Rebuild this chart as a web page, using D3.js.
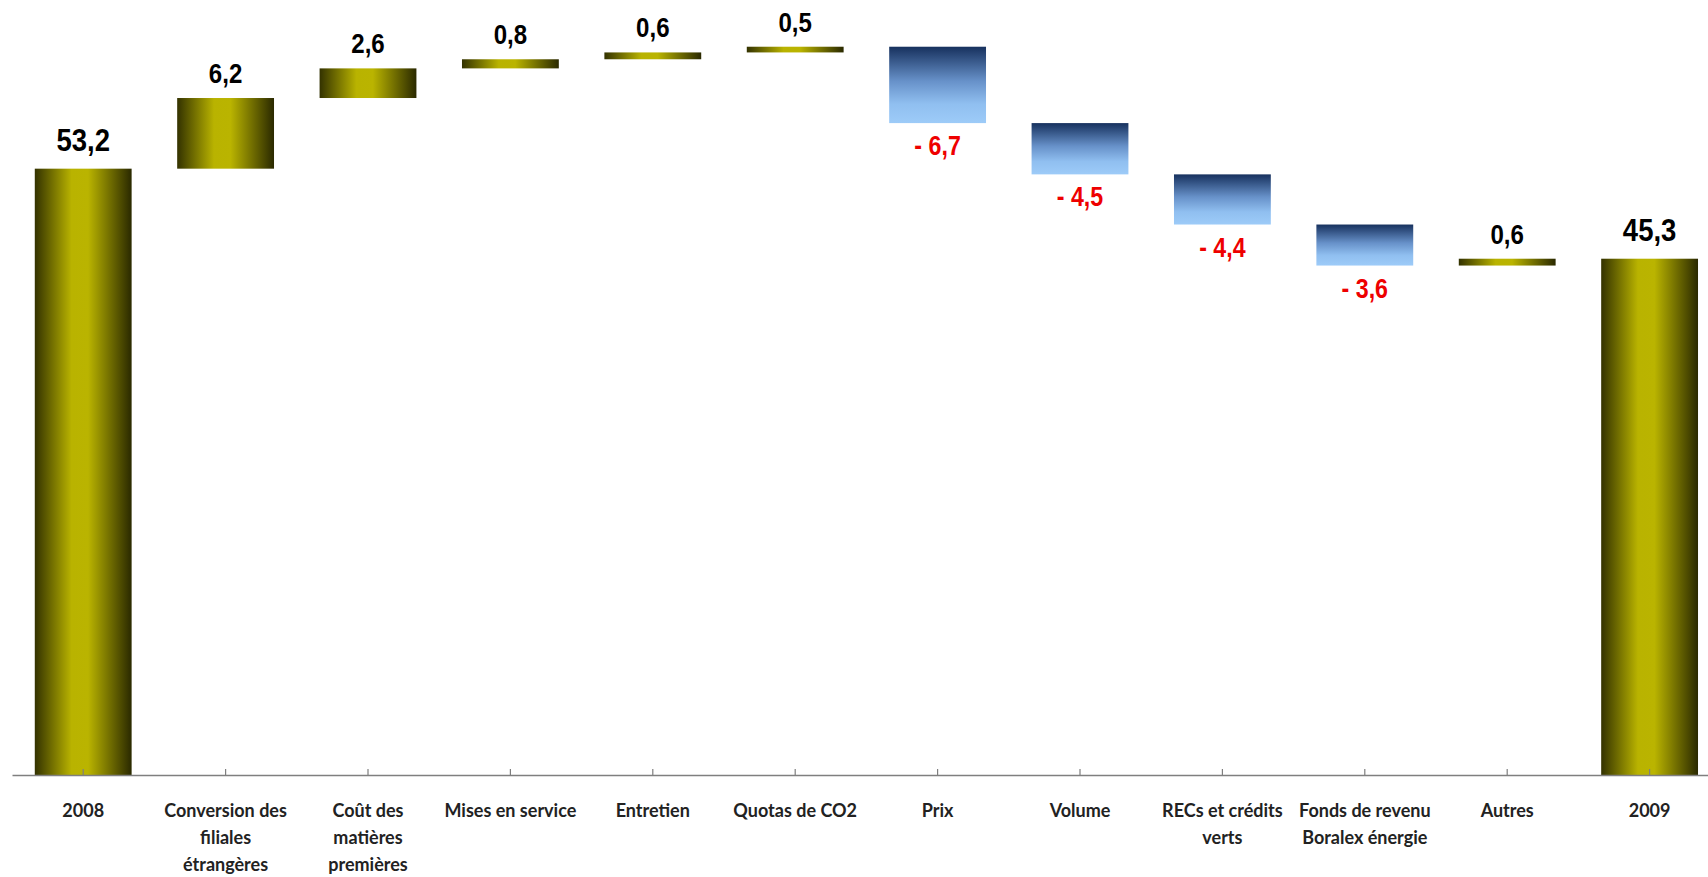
<!DOCTYPE html>
<html>
<head>
<meta charset="utf-8">
<script src="https://cdn.jsdelivr.net/npm/d3@7"></script>
<style>
  body { margin:0; background:#fff; }
  svg { display:block; }
</style>
</head>
<body>
<script>
// categories, one line per entry of the inner array
var categories = [
  ['2008'],
  ['Conversion des', 'filiales', 'étrangères'],
  ['Coût des', 'matières', 'premières'],
  ['Mises en service'],
  ['Entretien'],
  ['Quotas de CO2'],
  ['Prix'],
  ['Volume'],
  ['RECs et crédits', 'verts'],
  ['Fonds de revenu', 'Boralex énergie'],
  ['Autres'],
  ['2009']
];
var values = [53.2, 6.2, 2.6, 0.8, 0.6, 0.5, -6.7, -4.5, -4.4, -3.6, 0.6, 45.3];
var isTotal = [true, false, false, false, false, false, false, false, false, false, false, true];

var screen = { width:1708, height:877 };
var axisY = 775;

var svg = d3.select('body').append('svg')
            .attr('width', screen.width)
            .attr('height', screen.height);

var defs = svg.append('defs');
var gold = defs.append('linearGradient').attr('id', 'gold')
               .attr('x1', '0%').attr('y1', '0%').attr('x2', '100%').attr('y2', '0%');
gold.append('stop').attr('offset', '0%').attr('stop-color', '#333200');
gold.append('stop').attr('offset', '38%').attr('stop-color', '#b9b300');
gold.append('stop').attr('offset', '55%').attr('stop-color', '#bab400');
gold.append('stop').attr('offset', '100%').attr('stop-color', '#2a2900');

var blue = defs.append('linearGradient').attr('id', 'blue')
               .attr('x1', '0%').attr('y1', '0%').attr('x2', '0%').attr('y2', '100%');
blue.append('stop').attr('offset', '0%').attr('stop-color', '#17315e');
blue.append('stop').attr('offset', '45%').attr('stop-color', '#6791c9');
blue.append('stop').attr('offset', '75%').attr('stop-color', '#90bff0');
blue.append('stop').attr('offset', '100%').attr('stop-color', '#9dcbf8');

var keys = d3.range(categories.length);
var xScale = d3.scaleBand()
               .domain(keys)
               .range([12, 12 + 142.4 * categories.length])
               .paddingInner(0.32)
               .paddingOuter(0.16);
var yScale = d3.scaleLinear()
               .domain([0, 68])
               .range([axisY, 0]);

// running totals for the floating bars
var running = 0;
var bars = values.map(function(v, i){
  var lo, hi;
  if (isTotal[i]){
    lo = 0; hi = v; running = v;
  } else {
    lo = running; hi = running + v; running = hi;
  }
  return { i:i, v:v, y0:Math.min(lo, hi), y1:Math.max(lo, hi), total:isTotal[i] };
});

svg.selectAll('rect.bar')
   .data(bars)
   .enter()
   .append('rect')
   .classed('bar', true)
   .attr('x', function(d){ return xScale(d.i); })
   .attr('width', xScale.bandwidth())
   .attr('y', function(d){ return yScale(d.y1); })
   .attr('height', function(d){ return yScale(d.y0) - yScale(d.y1); })
   .attr('fill', function(d){ return d.v < 0 ? 'url(#blue)' : 'url(#gold)'; });

var fmt = function(v){
  var s = d3.format('.1f')(Math.abs(v)).replace('.', ',');
  return v < 0 ? '- ' + s : s;
};

// narrow bold look: squeeze Liberation Sans horizontally
svg.selectAll('text.val')
   .data(bars)
   .enter()
   .append('text')
   .classed('val', true)
   .attr('transform', function(d){
     var x = xScale(d.i) + xScale.bandwidth() / 2;
     var y = d.v < 0 ? yScale(d.y0) + 32 : yScale(d.y1) - (d.total ? 18 : 15);
     return 'translate(' + x + ',' + y + ') scale(0.86,1)';
   })
   .attr('text-anchor', 'middle')
   .attr('font-family', '"Liberation Sans", Arial, sans-serif')
   .attr('font-weight', 'bold')
   .attr('font-size', function(d){ return d.total ? 32 : (d.v < 0 ? 27 : 28); })
   .attr('fill', function(d){ return d.v < 0 ? '#ee0000' : '#000'; })
   .text(function(d){ return fmt(d.v); });

// axis
var xAxis = d3.axisBottom(xScale)
              .tickSizeInner(-6)
              .tickSizeOuter(0)
              .tickFormat('');
var axisG = svg.append('g')
               .attr('transform', 'translate(0,' + axisY + ')')
               .call(xAxis);
axisG.select('.domain').attr('stroke', '#7f7f7f').attr('stroke-width', 1.5);
axisG.selectAll('.tick line').attr('stroke', '#7f7f7f').attr('stroke-width', 1.2);

var labels = svg.append('g').classed('cats', true);
categories.forEach(function(lines, i){
  var t = labels.append('text')
                .attr('x', xScale(i) + xScale.bandwidth() / 2)
                .attr('y', axisY + 42)
                .attr('text-anchor', 'middle')
                .attr('font-family', 'Lato, "Open Sans", sans-serif')
                .attr('font-weight', 'bold')
                .attr('font-size', 18)
                .attr('fill', '#222');
  lines.forEach(function(line, k){
    t.append('tspan')
     .attr('x', xScale(i) + xScale.bandwidth() / 2)
     .attr('dy', k === 0 ? 0 : 27)
     .text(line);
  });
});
</script>
</body>
</html>
